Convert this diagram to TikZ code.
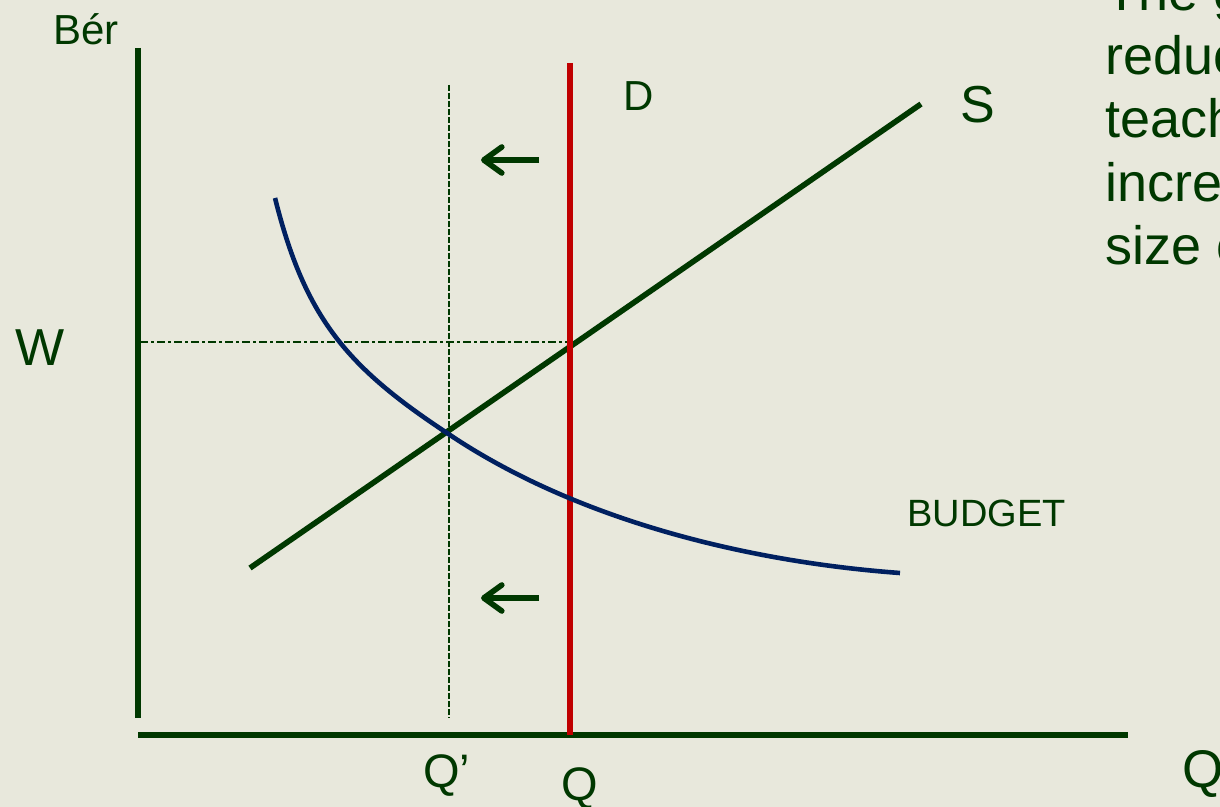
\documentclass[tikz,border=0pt]{standalone}
\usepackage{fontspec}
\setmainfont{Liberation Sans}
\usetikzlibrary{arrows.meta}
\definecolor{bgbeige}{RGB}{232,232,220}
\definecolor{dkgreen}{RGB}{0,56,0}
\definecolor{budblue}{RGB}{0,32,96}
\definecolor{dred}{RGB}{192,0,0}
\newcommand{\fsz}[1]{\fontsize{#1}{#1}\selectfont}
\tikzset{
  ax/.style={dkgreen, line width=3pt},
  sline/.style={dkgreen, line width=2.8pt},
  dline/.style={dred, line width=2.7pt},
  bline/.style={budblue, line width=2.3pt},
  guide/.style={dkgreen, line width=0.7pt, dash pattern=on 3pt off 1pt},
  guidedot/.style={dkgreen, line width=0.7pt, dash pattern=on 4pt off 1.5pt on 1.5pt off 1.5pt},
  movearr/.style={dkgreen, line width=2.8pt, -{Straight Barb[length=9pt,width=13pt,round]}},
  lab/.style={text=dkgreen, anchor=base west, inner sep=0pt},
}

\begin{document}
\begin{tikzpicture}[x=0.5pt,y=-0.5pt]
\useasboundingbox (0,0) rectangle (1220,807);
\fill[bgbeige] (0,0) rectangle (1220,807);
\clip (0,0) rectangle (1220,807);
% axes
\coordinate (ytop) at (138,48);  \coordinate (ybot) at (138,718);
\coordinate (xlft) at (138,735); \coordinate (xrgt) at (1128,735);
\draw[ax] (ytop) -- (ybot);
\draw[ax] (xlft) -- (xrgt);
% supply, demand and budget
\coordinate (slo) at (250,568); \coordinate (shi) at (921,104);
\coordinate (dtop) at (570,63); \coordinate (dbot) at (570,735);
\coordinate (eq) at (570,342);
\coordinate (qtop) at (449,85); \coordinate (qbot) at (449,718);
\coordinate (bstart) at (275,198); \coordinate (bmid) at (447,433); \coordinate (bend) at (900,573);
\draw[guidedot] (140,342) -- (eq);
\draw[guide] (qtop) -- (qbot);
\draw[sline] (slo) -- (shi);
\draw[dline] (dtop) -- (dbot);
\draw[bline] (bstart) .. controls (305,318) and (347,367) .. (bmid)
  .. controls (577,521) and (750,562) .. (bend);
% shift arrows
\coordinate (a1s) at (539,160); \coordinate (a1e) at (481,160);
\coordinate (a2s) at (539,598); \coordinate (a2e) at (481,598);
\draw[movearr] (a1s) -- (a1e);
\draw[movearr] (a2s) -- (a2e);
% labels
\node[lab, font=\fsz{21pt}] (ber) at (53,45) {Bér};
\node[lab, font=\fsz{26pt}] (wlab) at (15,365) {W};
\node[lab, font=\fsz{21pt}] (dlab) at (623,111) {D};
\node[lab, font=\fsz{26pt}] (slab) at (960,123) {S};
\node[lab, font=\fsz{19pt}] (budget) at (907,526) {BUDGET};
\node[lab, font=\fsz{23.5pt}] (qprime) at (423,787) {Q’};
\node[lab, font=\fsz{23.5pt}] (qlab) at (561,800) {Q};
\node[lab, font=\fsz{26.5pt}] (qright) at (1182,787) {Q};
\foreach \txt [count=\i] in {The g, reduc, teach, incre, size o}
  \node[lab, font=\fsz{27pt}] (note\i) at (1105,{11+63.5*(\i-1)}) {\txt};
\end{tikzpicture}
\end{document}
